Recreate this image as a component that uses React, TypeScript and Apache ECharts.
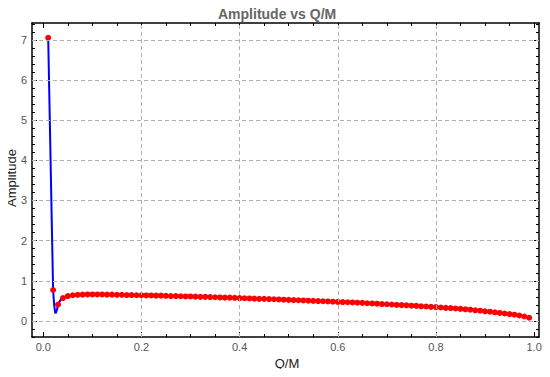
import React, { useEffect, useRef } from "react";
import * as echarts from "echarts";

// Q/M sample positions
const qm = [
  0.01, 0.02, 0.03, 0.04, 0.05, 0.06, 0.07, 0.08, 0.09,
  0.1, 0.11, 0.12, 0.13, 0.14, 0.15, 0.16, 0.17, 0.18, 0.19,
  0.2, 0.21, 0.22, 0.23, 0.24, 0.25, 0.26, 0.27, 0.28, 0.29,
  0.3, 0.31, 0.32, 0.33, 0.34, 0.35, 0.36, 0.37, 0.38, 0.39,
  0.4, 0.41, 0.42, 0.43, 0.44, 0.45, 0.46, 0.47, 0.48, 0.49,
  0.5, 0.51, 0.52, 0.53, 0.54, 0.55, 0.56, 0.57, 0.58, 0.59,
  0.6, 0.61, 0.62, 0.63, 0.64, 0.65, 0.66, 0.67, 0.68, 0.69,
  0.7, 0.71, 0.72, 0.73, 0.74, 0.75, 0.76, 0.77, 0.78, 0.79,
  0.8, 0.81, 0.82, 0.83, 0.84, 0.85, 0.86, 0.87, 0.88, 0.89,
  0.9, 0.91, 0.92, 0.93, 0.94, 0.95, 0.96, 0.97, 0.98, 0.99,
];

// Amplitude at each Q/M (red points)
const amplitude = [
  7.05, 0.77, 0.41, 0.57, 0.62, 0.64, 0.65, 0.655, 0.66,
  0.66, 0.66, 0.66, 0.655, 0.655, 0.65, 0.65, 0.645, 0.645, 0.64,
  0.64, 0.635, 0.635, 0.63, 0.63, 0.625, 0.62, 0.62, 0.615, 0.61,
  0.61, 0.605, 0.6, 0.6, 0.595, 0.59, 0.585, 0.58, 0.58, 0.575,
  0.57, 0.565, 0.56, 0.555, 0.55, 0.55, 0.545, 0.54, 0.535, 0.53,
  0.525, 0.52, 0.515, 0.51, 0.505, 0.5, 0.495, 0.49, 0.485, 0.48,
  0.475, 0.47, 0.465, 0.46, 0.455, 0.45, 0.44, 0.435, 0.43, 0.42,
  0.415, 0.41, 0.4, 0.395, 0.39, 0.38, 0.375, 0.365, 0.36, 0.35,
  0.345, 0.335, 0.325, 0.32, 0.31, 0.3, 0.29, 0.28, 0.265, 0.255,
  0.24, 0.23, 0.215, 0.2, 0.185, 0.17, 0.155, 0.135, 0.11, 0.08,
];

// Interpolating curve dip read between the first samples (blue curve)
const dipQm = [0.022, 0.024, 0.025, 0.026, 0.028, 0.035];
const dipAmp = [0.42, 0.22, 0.19, 0.2, 0.28, 0.52];

// Tick values
const xMajor = [0, 0.2, 0.4, 0.6, 0.8, 1.0];
const xMinor = [0.05, 0.1, 0.15, 0.25, 0.3, 0.35, 0.45, 0.5, 0.55, 0.65, 0.7, 0.75, 0.85, 0.9, 0.95];
const xGrid = [0.2, 0.4, 0.6, 0.8];
const yMajor = [0, 1, 2, 3, 4, 5, 6, 7];
const yMinor = [
  -0.4, -0.2, 0.2, 0.4, 0.6, 0.8, 1.2, 1.4, 1.6, 1.8, 2.2, 2.4, 2.6, 2.8,
  3.2, 3.4, 3.6, 3.8, 4.2, 4.4, 4.6, 4.8, 5.2, 5.4, 5.6, 5.8, 6.2, 6.4, 6.6, 6.8,
  7.2, 7.4,
];
const yGrid = [0, 1, 2, 3, 4, 5, 6, 7];

const X_MIN = -0.023;
const X_MAX = 1.01;
const Y_MIN = -0.4;
const Y_MAX = 7.42;

const TITLE = "Amplitude vs Q/M";
const X_NAME = "Q/M";
const Y_NAME = "Amplitude";

const FONT = "'Liberation Sans', Arial, sans-serif";

export default function App() {
  const ref = useRef<HTMLDivElement>(null);

  useEffect(() => {
    if (!ref.current) return;
    const chart = echarts.init(ref.current, undefined, { renderer: "svg" });

    const points = qm.map((x, i) => [x, amplitude[i]]);
    const curve = points
      .concat(dipQm.map((x, i) => [x, dipAmp[i]]))
      .sort((a, b) => a[0] - b[0]);

    const frameLine = { show: true, onZero: false, lineStyle: { color: "#000", width: 1.5 } };
    const tickStyle = { color: "#000", width: 1 };

    const xAx = (position: string, custom: number[], len: number, labels: boolean, line: boolean) => ({
      type: "value",
      min: X_MIN,
      max: X_MAX,
      position,
      axisLine: line ? frameLine : { show: false, onZero: false },
      axisTick: { show: true, inside: true, length: len, customValues: custom, lineStyle: tickStyle },
      axisLabel: labels
        ? {
            show: true,
            customValues: xMajor,
            formatter: (v: number) => v.toFixed(1),
            color: "#555",
            fontSize: 11,
            fontFamily: FONT,
            margin: 4,
          }
        : { show: false },
      splitLine: { show: false },
    });

    const yAx = (position: string, custom: number[], len: number, labels: boolean, line: boolean) => ({
      type: "value",
      min: Y_MIN,
      max: Y_MAX,
      position,
      axisLine: line ? frameLine : { show: false, onZero: false },
      axisTick: { show: true, inside: true, length: len, customValues: custom, lineStyle: tickStyle },
      axisLabel: labels
        ? {
            show: true,
            customValues: yMajor,
            formatter: (v: number) => String(v),
            color: "#555",
            fontSize: 11,
            fontFamily: FONT,
            margin: 5,
          }
        : { show: false },
      splitLine: { show: false },
    });

    chart.setOption({
      animation: false,
      backgroundColor: "#fff",
      title: {
        text: TITLE,
        left: 213,
        top: 2,
        textStyle: { color: "#666", fontSize: 14, fontWeight: "bold", fontFamily: FONT },
      },
      graphic: [
        {
          type: "text",
          x: 287,
          y: 363,
          style: {
            text: X_NAME,
            fill: "#222",
            font: `13px ${FONT}`,
            textAlign: "center",
            textVerticalAlign: "middle",
          },
        },
        {
          type: "text",
          x: 11,
          y: 178,
          rotation: Math.PI / 2,
          style: {
            text: Y_NAME,
            fill: "#222",
            font: `13px ${FONT}`,
            textAlign: "center",
            textVerticalAlign: "middle",
          },
        },
      ],
      grid: { left: 32, right: 11, top: 23, bottom: 40, containLabel: false, outerBoundsMode: "none" },
      xAxis: [
        xAx("bottom", xMajor, 5, true, true),
        xAx("bottom", xMinor, 3, false, false),
        xAx("top", xMajor, 5, false, true),
        xAx("top", xMinor, 3, false, false),
      ],
      yAxis: [
        yAx("left", yMajor, 5, true, true),
        yAx("left", yMinor, 3, false, false),
        yAx("right", yMajor, 5, false, true),
        yAx("right", yMinor, 3, false, false),
      ],
      series: [
        {
          type: "line",
          data: [],
          z: 1,
          silent: true,
          markLine: {
            silent: true,
            symbol: ["none", "none"],
            label: { show: false },
            lineStyle: { color: "#b0b0b0", width: 1, type: [4, 3] },
            data: [
              ...xGrid.map((v) => ({ xAxis: v })),
              ...yGrid.map((v) => ({ yAxis: v })),
            ],
          },
        },
        {
          type: "line",
          data: curve,
          z: 2,
          showSymbol: false,
          symbol: "none",
          smooth: false,
          lineStyle: { color: "#0000ff", width: 2 },
        },
        {
          type: "scatter",
          data: points,
          z: 3,
          symbol: "circle",
          symbolSize: 6,
          itemStyle: { color: "#ff0000", opacity: 1 },
        },
      ],
    });

    return () => chart.dispose();
  }, []);

  return <div ref={ref} style={{ width: 550, height: 377, margin: -8 }} />;
}
